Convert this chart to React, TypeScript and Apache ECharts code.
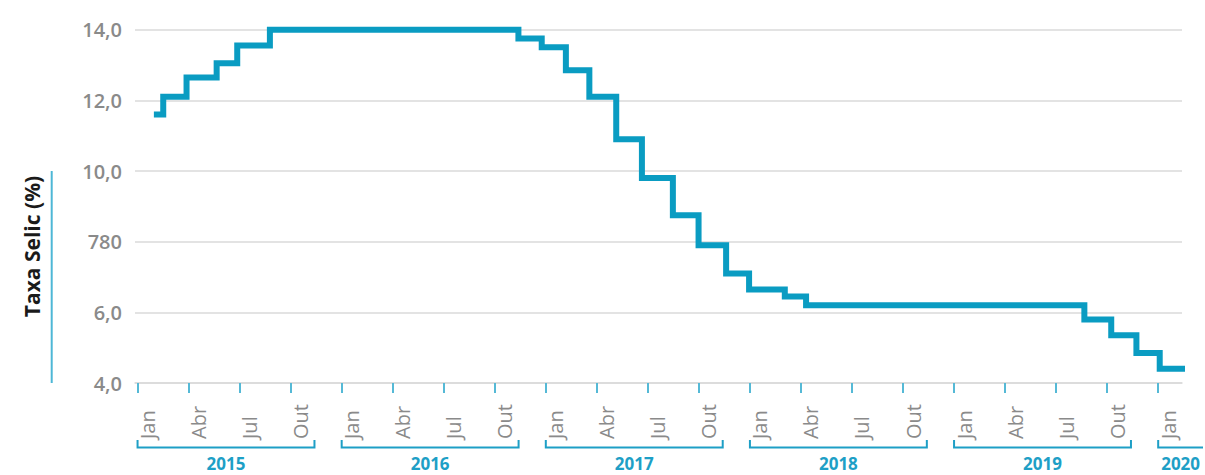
import React, { useEffect, useRef } from "react";
import * as echarts from "echarts";

// Months elapsed since the "Jan 2015" tick at which each level begins
const stepMonths = [0.96, 1.51, 2.88, 4.65, 5.86, 7.78, 22.39, 23.76, 25.18, 26.56, 28.14, 29.65, 31.47, 32.98, 34.6, 35.95, 38.05, 39.3, 55.66, 57.24, 58.72, 60.09, 61.66];
// Taxa Selic (%) level starting at each of those points
const stepValues = [11.6, 12.1, 12.65, 13.05, 13.55, 14.0, 13.75, 13.5, 12.85, 12.1, 10.9, 9.8, 8.75, 7.9, 7.1, 6.65, 6.45, 6.2, 5.8, 5.35, 4.85, 4.4, 4.4];

const monthTickValues = [0, 3, 6, 9, 12, 15, 18, 21, 24, 27, 30, 33, 36, 39, 42, 45, 48, 51, 54, 57, 60];
const monthNames = ["Jan", "Abr", "Jul", "Out"];
const years = [2015, 2016, 2017, 2018, 2019, 2020];
const yTickValues = [4, 6, 8, 10, 12, 14];
const yTickLabels = ["4,0", "6,0", "780", "10,0", "12,0", "14,0"];
const axisTitle = "Taxa Selic (%)";

const W = 1205;
const H = 475;
const LINE = "#0a9cc2";
const TEAL = "#1e9fc6";
const TICK = "#55b9d6";
const GRID = "#dadada";
const FONT = "'Open Sans', 'Noto Sans', sans-serif";

export default function App() {
  const ref = useRef<HTMLDivElement>(null);

  useEffect(() => {
    const el = ref.current!;
    const chart = echarts.init(el, null, { renderer: "svg" });
    const data = stepMonths.map((m, i) => [m, stepValues[i]]);

    chart.setOption({
      animation: false,
      grid: { left: 135, right: 23, top: 29.7, bottom: 92, containLabel: false },
      xAxis: {
        type: "value",
        min: -0.15,
        max: 61.4,
        splitLine: { show: false },
        axisLine: { show: true, lineStyle: { color: GRID, width: 1.5 } },
        axisTick: {
          show: true,
          customValues: monthTickValues,
          length: 10,
          lineStyle: { color: TICK, width: 2 },
        },
        axisLabel: {
          show: true,
          customValues: monthTickValues,
          formatter: (v: number) => monthNames[Math.round(v / 3) % 4],
          rotate: 90,
          align: "left",
          verticalAlign: "top",
          margin: 56,
          color: "#8a8a8a",
          fontSize: 20,
          fontFamily: FONT,
        },
      },
      yAxis: {
        type: "value",
        min: 4,
        max: 14,
        interval: 2,
        axisLine: { show: false },
        axisTick: { show: false },
        splitLine: { show: true, lineStyle: { color: GRID, width: 1.5 } },
        axisLabel: {
          margin: 13,
          color: "#8a8a8a",
          fontSize: 20,
          fontWeight: 600,
          fontFamily: FONT,
          formatter: (v: number) => {
            const i = yTickValues.indexOf(Math.round(v));
            return i >= 0 ? yTickLabels[i] : "";
          },
        },
      },
      series: [
        {
          type: "line",
          data,
          step: "end",
          symbol: "none",
          clip: false,
          lineStyle: { color: LINE, width: 6, join: "miter", cap: "butt" },
        },
      ],
    });

    const px = (m: number) => chart.convertToPixel({ xAxisIndex: 0 }, m) as number;
    const py = (v: number) => chart.convertToPixel({ yAxisIndex: 0 }, v) as number;

    const graphics: any[] = [];
    const yTop = 440;
    const yBot = 447.5;
    years.forEach((yr, k) => {
      const x1 = px(12 * k);
      const rawEnd = px(12 * k + 10.4);
      const clipped = rawEnd > W - 2;
      const x2 = clipped ? W - 2 : rawEnd;
      const pts = clipped
        ? [[x1, yTop], [x1, yBot], [x2, yBot]]
        : [[x1, yTop], [x1, yBot], [x2, yBot], [x2, yTop]];
      graphics.push({
        type: "polyline",
        silent: true,
        shape: { points: pts },
        style: { stroke: TEAL, lineWidth: 2, fill: null },
      });
      graphics.push({
        type: "text",
        silent: true,
        x: (x1 + x2) / 2,
        y: 463,
        style: {
          text: String(yr),
          align: "center",
          verticalAlign: "middle",
          lineHeight: 17,
          fill: TEAL,
          fontSize: 17,
          fontWeight: "bold",
          fontFamily: FONT,
        },
      });
    });

    graphics.push({
      type: "line",
      silent: true,
      shape: { x1: 51.7, y1: py(10), x2: 51.7, y2: py(4) },
      style: { stroke: "#4db7d6", lineWidth: 2 },
    });
    graphics.push({
      type: "text",
      silent: true,
      x: 31.7,
      y: 246.5,
      rotation: Math.PI / 2,
      style: {
        text: axisTitle,
        align: "center",
        verticalAlign: "middle",
        fill: "#1a1a1a",
        fontSize: 21,
        fontWeight: "bold",
        fontFamily: FONT,
      },
    });

    chart.setOption({ graphic: graphics });

    return () => {
      chart.dispose();
    };
  }, []);

  return (
    <div
      ref={ref}
      style={{ position: "fixed", left: 0, top: 0, width: W, height: H, background: "#ffffff" }}
    />
  );
}
